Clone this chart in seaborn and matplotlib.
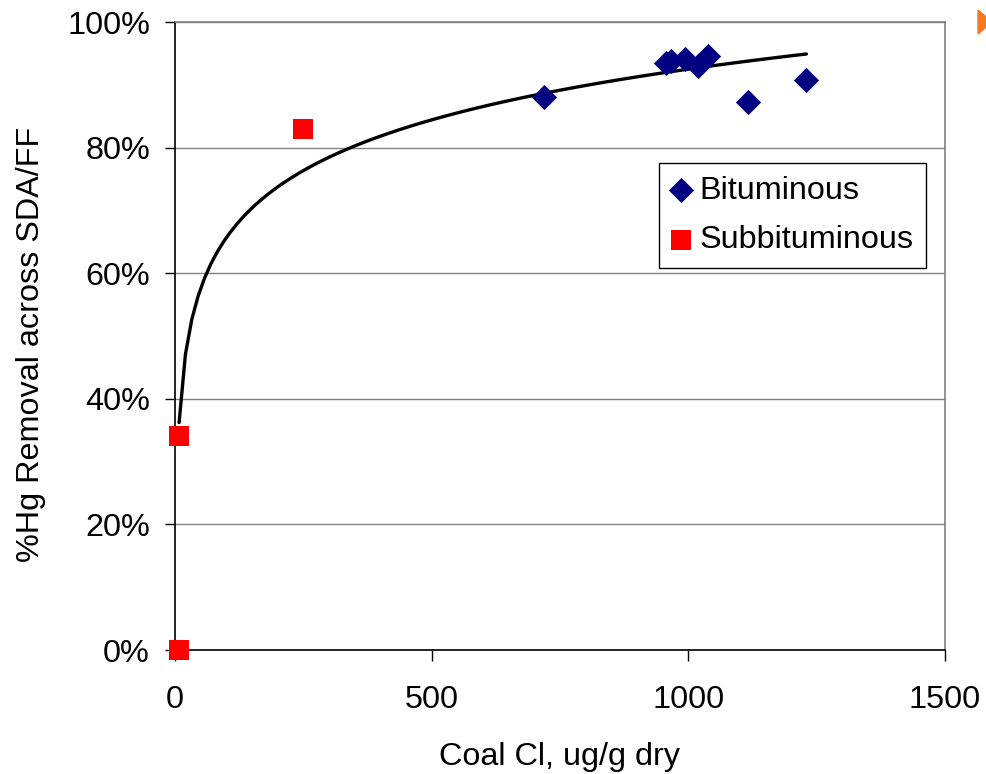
import matplotlib
matplotlib.use("Agg")
import matplotlib.pyplot as plt
import seaborn as sns
import pandas as pd
from matplotlib.ticker import PercentFormatter, FixedLocator
from matplotlib.patches import Polygon

# ---- data ----
bit_cl = [718, 957, 966, 993, 1019, 1038, 1117, 1230]
bit_hg = [88.1, 93.4, 93.8, 94.1, 93.0, 94.6, 87.3, 90.7]
sub_cl = [8, 8, 250]
sub_hg = [0.0, 34.0, 83.0]
x_ticks = [0, 500, 1000, 1500]
y_ticks = [0, 20, 40, 60, 80, 100]

sns.set_style("white")
plt.rcParams['font.family'] = ['Liberation Sans', 'DejaVu Sans']
for k in ["text.color", "axes.labelcolor", "xtick.color", "ytick.color"]:
    plt.rcParams[k] = "black"
FS = 23.3

bit = pd.DataFrame({"cl": bit_cl, "hg": bit_hg})
sub = pd.DataFrame({"cl": sub_cl, "hg": sub_hg})
allpts = pd.concat([bit, sub], ignore_index=True)
trend = allpts[allpts["hg"] > 0]   # log trendline fitted on non-zero points

fig = plt.figure(figsize=(9.87, 7.74), dpi=100)
ax = fig.add_axes([175 / 987, 1 - 650 / 774, 770 / 987, 628 / 774])

ax.yaxis.grid(True, color="#808080", linewidth=1.0)
ax.set_axisbelow(True)

sns.regplot(data=trend, x="cl", y="hg", logx=True, scatter=False, ci=None,
            truncate=True, color="black", line_kws={"linewidth": 2.4}, ax=ax)

sns.scatterplot(data=bit, x="cl", y="hg", marker="D", color="#000080", s=165,
                linewidth=0, ax=ax, label="Bituminous", clip_on=False, zorder=5)
sns.scatterplot(data=sub, x="cl", y="hg", marker="s", color="#FF0000", s=205,
                linewidth=0, ax=ax, label="Subbituminous", clip_on=False, zorder=5)

ax.set_xlim(0, 1500)
ax.set_ylim(0, 100)
ax.xaxis.set_major_locator(FixedLocator(x_ticks))
ax.yaxis.set_major_locator(FixedLocator(y_ticks))
ax.yaxis.set_major_formatter(PercentFormatter(xmax=100, decimals=0))

ax.tick_params(axis="x", direction="out", length=8, width=1, color="black",
               labelsize=FS, pad=17, bottom=True)
ax.tick_params(axis="y", direction="out", length=7, width=1, color="black",
               labelsize=FS, pad=11, left=True)

for side in ["left", "bottom"]:
    ax.spines[side].set_color("black")
    ax.spines[side].set_linewidth(1.2)
for side in ["top", "right"]:
    ax.spines[side].set_color("#808080")
    ax.spines[side].set_linewidth(1.2)

ax.set_xlabel("Coal Cl, ug/g dry", fontsize=FS, labelpad=20)
ax.set_ylabel("%Hg Removal across SDA/FF", fontsize=FS)
ax.yaxis.set_label_coords(-0.167, 0.486)

leg = ax.legend(loc="upper left", bbox_to_anchor=(484 / 770, (650 - 163) / 628),
                borderaxespad=0, fontsize=FS, frameon=True, fancybox=False,
                edgecolor="black", framealpha=1, borderpad=0.4,
                labelspacing=0.6, handlelength=0.55, handletextpad=0.3)
leg.get_frame().set_linewidth(1.0)

# orange bullet partly cut off at top-right edge
tri = Polygon([(978 / 987, 1 - 10 / 774), (978 / 987, 1 - 34 / 774), (992 / 987, 1 - 22 / 774)],
              closed=True, transform=fig.transFigure, color="#F47920", clip_on=False)
fig.add_artist(tri)

fig.savefig("out.png", dpi=100)
